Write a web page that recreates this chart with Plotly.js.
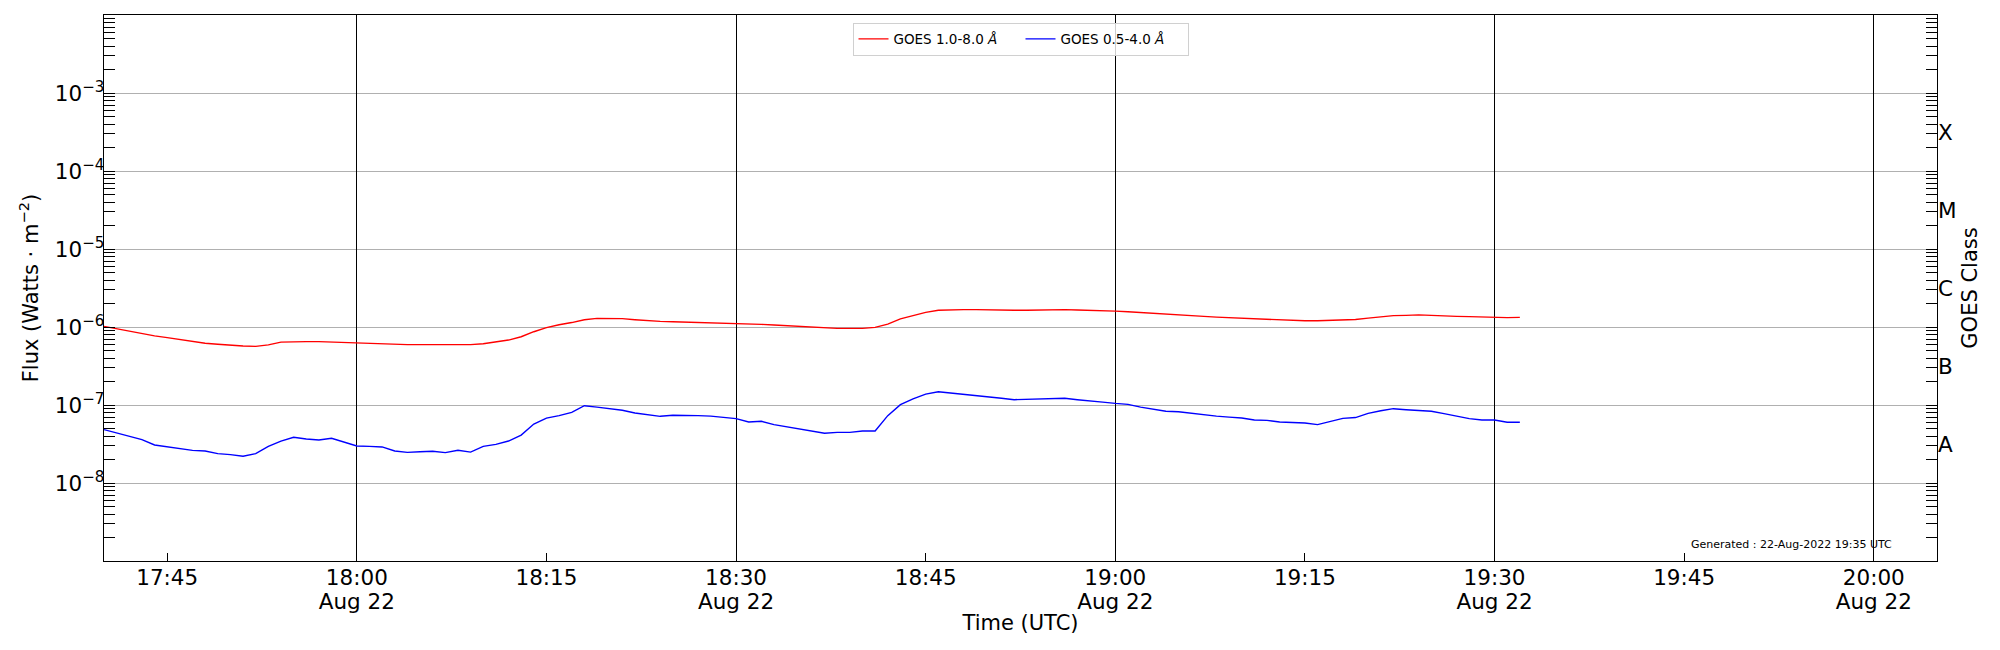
<!DOCTYPE html>
<html>
<head>
<meta charset="utf-8">
<script src="https://cdn.plot.ly/plotly-3.0.1.min.js"></script>
<style>
  html, body { margin: 0; padding: 0; background: white; }
  #chart { width: 2000px; height: 650px; }
</style>
</head>
<body>
<div id="chart"></div>
<script>
// GOES XRS flux, 1-minute samples starting 2022-08-22 17:40 UTC
var dayStr = '2022-08-22'
var startMinute = 17 * 60 + 40

var goesLong = [ // 1.0-8.0 A
    1.02e-6, 9.5e-7, 8.8e-7, 8.3e-7, 7.7e-7, 7.3e-7, 6.9e-7, 6.5e-7, 6.2e-7, 6.0e-7,
    5.8e-7, 5.7e-7, 5.65e-7, 5.9e-7, 6.4e-7, 6.5e-7, 6.5e-7, 6.5e-7, 6.4e-7, 6.3e-7,
    6.2e-7, 6.1e-7, 6.05e-7, 6.0e-7, 5.95e-7, 5.95e-7, 5.95e-7, 5.95e-7, 5.95e-7, 5.95e-7,
    6.1e-7, 6.4e-7, 6.8e-7, 7.5e-7, 8.7e-7, 9.8e-7, 1.07e-6, 1.14e-6, 1.24e-6, 1.29e-6,
    1.29e-6, 1.28e-6, 1.24e-6, 1.2e-6, 1.18e-6, 1.17e-6, 1.16e-6, 1.15e-6, 1.14e-6, 1.13e-6,
    1.1e-6, 1.09e-6, 1.08e-6, 1.06e-6, 1.04e-6, 1.02e-6, 9.9e-7, 9.8e-7, 9.6e-7, 9.6e-7,
    9.6e-7, 9.9e-7, 1.09e-6, 1.27e-6, 1.4e-6, 1.54e-6, 1.64e-6, 1.67e-6, 1.67e-6, 1.67e-6,
    1.65e-6, 1.64e-6, 1.64e-6, 1.64e-6, 1.65e-6, 1.67e-6, 1.67e-6, 1.65e-6, 1.64e-6, 1.62e-6,
    1.6e-6, 1.57e-6, 1.53e-6, 1.5e-6, 1.45e-6, 1.43e-6, 1.4e-6, 1.37e-6, 1.34e-6, 1.32e-6,
    1.29e-6, 1.28e-6, 1.25e-6, 1.22e-6, 1.21e-6, 1.2e-6, 1.2e-6, 1.21e-6, 1.23e-6, 1.25e-6,
    1.3e-6, 1.36e-6, 1.4e-6, 1.41e-6, 1.43e-6, 1.41e-6, 1.38e-6, 1.37e-6, 1.36e-6, 1.34e-6,
    1.33e-6, 1.32e-6, 1.33e-6
]

var goesShort = [ // 0.5-4.0 A
    4.83e-8, 4.38e-8, 3.93e-8, 3.6e-8, 3.07e-8, 2.9e-8, 2.78e-8, 2.62e-8, 2.57e-8, 2.38e-8,
    2.31e-8, 2.2e-8, 2.38e-8, 2.95e-8, 3.45e-8, 3.85e-8, 3.66e-8, 3.56e-8, 3.74e-8, 3.32e-8,
    2.98e-8, 2.95e-8, 2.9e-8, 2.57e-8, 2.47e-8, 2.52e-8, 2.55e-8, 2.45e-8, 2.63e-8, 2.49e-8,
    2.95e-8, 3.13e-8, 3.45e-8, 4.12e-8, 5.7e-8, 6.8e-8, 7.3e-8, 8.05e-8, 9.8e-8, 9.4e-8,
    8.9e-8, 8.55e-8, 7.9e-8, 7.5e-8, 7.16e-8, 7.38e-8, 7.38e-8, 7.3e-8, 7.2e-8, 6.95e-8,
    6.68e-8, 6.05e-8, 6.18e-8, 5.6e-8, 5.27e-8, 4.97e-8, 4.6e-8, 4.34e-8, 4.46e-8, 4.46e-8,
    4.64e-8, 4.64e-8, 7.3e-8, 1.01e-7, 1.2e-7, 1.38e-7, 1.48e-7, 1.43e-7, 1.37e-7, 1.33e-7,
    1.27e-7, 1.22e-7, 1.17e-7, 1.18e-7, 1.2e-7, 1.2e-7, 1.22e-7, 1.17e-7, 1.12e-7, 1.09e-7,
    1.05e-7, 1.02e-7, 9.4e-8, 8.8e-8, 8.3e-8, 8.2e-8, 7.8e-8, 7.5e-8, 7.2e-8, 6.99e-8,
    6.8e-8, 6.42e-8, 6.36e-8, 6.05e-8, 5.93e-8, 5.88e-8, 5.6e-8, 6.1e-8, 6.74e-8, 6.9e-8,
    7.8e-8, 8.45e-8, 8.97e-8, 8.7e-8, 8.45e-8, 8.3e-8, 7.74e-8, 7.2e-8, 6.68e-8, 6.42e-8,
    6.42e-8, 6.0e-8, 6.0e-8
]

var xTicks = ['17:45', '18:00', '18:15', '18:30', '18:45', '19:00', '19:15', '19:30', '19:45', '20:00']
var xRange = ['17:40', '20:05']
var dateLabel = 'Aug 22'
var fluxTicks = [1e-3, 1e-4, 1e-5, 1e-6, 1e-7, 1e-8]
var fluxLabels = ['10<sup>\u22123</sup>', '10<sup>\u22124</sup>', '10<sup>\u22125</sup>',
    '10<sup>\u22126</sup>', '10<sup>\u22127</sup>', '10<sup>\u22128</sup>']
var classNames = ['A', 'B', 'C', 'M', 'X']
var classCenters = [3.162e-8, 3.162e-7, 3.162e-6, 3.162e-5, 3.162e-4]
var generatedText = 'Generated : 22-Aug-2022 19:35 UTC'

function stamp(minutes) {
    var h = Math.floor(minutes / 60)
    var m = minutes % 60
    return dayStr + ' ' + (h < 10 ? '0' : '') + h + ':' + (m < 10 ? '0' : '') + m
}
function atDay(hhmm) {
    return dayStr + ' ' + hhmm
}

var times = goesLong.map((v, i) => stamp(startMinute + i))

var tickVals = xTicks.map(atDay)
var majorTicks = xTicks.filter(t => t.endsWith(':00') || t.endsWith(':30'))
var gridVals = majorTicks.map(atDay)
var gridText = majorTicks.map(t => dateLabel)
var range = xRange.map(atDay)

var longTrace = {
    x: times,
    y: goesLong,
    mode: 'lines',
    type: 'scatter',
    name: 'GOES 1.0-8.0 <i>\u00c5</i>',
    line: { color: '#ff0000', width: 1.4 }
}

var shortTrace = {
    x: times,
    y: goesShort,
    mode: 'lines',
    type: 'scatter',
    name: 'GOES 0.5-4.0 <i>\u00c5</i>',
    line: { color: '#0000ff', width: 1.4 }
}

// invisible copies so the overlay axes (30-min grid, class axis) get drawn
var gridHolder = {
    x: times, y: goesLong, xaxis: 'x2', yaxis: 'y',
    mode: 'lines', opacity: 0, showlegend: false, hoverinfo: 'skip'
}
var classHolder = {
    x: times, y: goesLong, xaxis: 'x', yaxis: 'y2',
    mode: 'lines', opacity: 0, showlegend: false, hoverinfo: 'skip'
}

var layout = {
    width: 2000,
    height: 650,
    paper_bgcolor: 'white',
    plot_bgcolor: 'white',
    font: { family: 'DejaVu Sans', size: 21, color: 'black' },
    margin: { l: 104, r: 63, t: 15, b: 89 },
    showlegend: true,
    legend: {
        orientation: 'h',
        x: 0.5, xanchor: 'center',
        y: 0.986, yanchor: 'top',
        font: { size: 13.5 },
        entrywidth: 122,
        bgcolor: 'rgba(255,255,255,0.8)',
        bordercolor: '#d0d0d0',
        borderwidth: 1
    },
    xaxis: {
        type: 'date',
        range: range,
        tickmode: 'array',
        tickvals: tickVals,
        ticktext: xTicks,
        tickfont: { size: 21.5 },
        ticklabelstandoff: -3,
        ticks: 'inside',
        ticklen: 8,
        tickcolor: 'black',
        showgrid: false,
        zeroline: false,
        showline: true,
        mirror: true,
        linecolor: 'black',
        linewidth: 1.3,
        automargin: true,
        title: { text: 'Time (UTC)', font: { size: 21 }, standoff: 26 }
    },
    xaxis2: {
        type: 'date',
        overlaying: 'x',
        anchor: 'y',
        side: 'bottom',
        range: range,
        tickmode: 'array',
        tickvals: gridVals,
        ticktext: gridText,
        tickfont: { size: 21.5 },
        ticklabelstandoff: 25,
        ticks: '',
        showgrid: true,
        gridcolor: 'black',
        gridwidth: 1,
        zeroline: false,
        showline: false
    },
    yaxis: {
        type: 'log',
        range: [-9, -2],
        tickmode: 'array',
        tickvals: fluxTicks,
        ticktext: fluxLabels,
        tickfont: { size: 21.5 },
        ticklabelstandoff: -6,
        ticks: 'inside',
        ticklen: 11,
        tickcolor: 'black',
        minor: { ticks: 'inside', ticklen: 7, dtick: 'D1', tickcolor: 'black', showgrid: false },
        showgrid: true,
        gridcolor: '#b0b0b0',
        gridwidth: 1,
        zeroline: false,
        showline: true,
        mirror: 'allticks',
        linecolor: 'black',
        linewidth: 1.3,
        automargin: true,
        title: { text: 'Flux (Watts \u00b7 m<sup>\u22122</sup>)', font: { size: 21 }, standoff: 10 }
    },
    yaxis2: {
        type: 'log',
        overlaying: 'y',
        side: 'right',
        anchor: 'x',
        range: [-9, -2],
        tickmode: 'array',
        tickvals: classCenters,
        ticktext: classNames,
        tickfont: { size: 21.5 },
        ticks: '',
        showgrid: false,
        zeroline: false,
        showline: false,
        automargin: true,
        title: { text: 'GOES Class', font: { size: 21 }, standoff: 6 }
    },
    annotations: [{
        xref: 'paper', yref: 'paper',
        x: 0.9204, y: 0.031,
        xanchor: 'center', yanchor: 'middle',
        text: generatedText,
        showarrow: false,
        font: { size: 11 }
    }]
}

Plotly.newPlot('chart', [longTrace, shortTrace, gridHolder, classHolder], layout,
    { displayModeBar: false, staticPlot: true })
</script>
</body>
</html>
